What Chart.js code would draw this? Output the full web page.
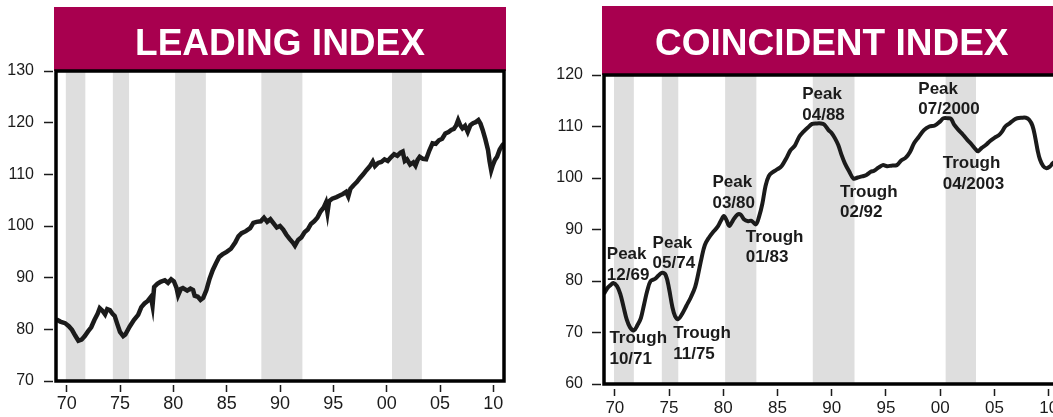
<!DOCTYPE html>
<html>
<head>
<meta charset="utf-8">
<script src="https://cdn.jsdelivr.net/npm/chart.js@4.4.1/dist/chart.umd.min.js"></script>
<style>
  html, body { margin: 0; padding: 0; background: #fff; overflow: hidden; width: 1053px; height: 417px; }
  canvas { position: absolute; top: 0; }
  #leading { left: 0; }
  #coincident { left: 530px; }
</style>
</head>
<body>
<canvas id="leading" width="525" height="417"></canvas>
<canvas id="coincident" width="560" height="417"></canvas>
<script>
const FONT = "'Liberation Sans', Arial, Helvetica, sans-serif";
const INK = '#1b1b1b';
const BANNER = '#a8004f';
const SHADE = '#dedede';

// shaded cycles, peak -> trough (decimal years)
const cycleStarts = [1969.92, 1974.33, 1980.17, 1988.25, 2000.5];
const cycleEnds   = [1971.75, 1975.85, 1983.05, 1992.1, 2003.3];

const xTickYears = [1970, 1975, 1980, 1985, 1990, 1995, 2000, 2005, 2010];
const leadTicks  = [70, 80, 90, 100, 110, 120, 130];
const coincTicks = [60, 70, 80, 90, 100, 110, 120];

// leading index
const leadYears = [
  1969.05, 1969.4, 1969.85, 1970.2, 1970.5, 1970.8, 1971.1, 1971.4, 1971.7, 1972.0,
  1972.3, 1972.6, 1972.9, 1973.1, 1973.35, 1973.6, 1973.8, 1974.05, 1974.3, 1974.5,
  1974.75, 1975.0, 1975.3, 1975.5, 1975.9, 1976.3, 1976.7, 1977.0, 1977.3, 1977.6,
  1977.9, 1978.05, 1978.2, 1978.5, 1978.8, 1979.2, 1979.5, 1979.8, 1980.05, 1980.3,
  1980.45, 1980.7, 1980.9, 1981.3, 1981.6, 1981.85, 1982.0, 1982.3, 1982.55, 1982.8,
  1983.1, 1983.4, 1983.7, 1984.0, 1984.3, 1984.6, 1985.0, 1985.4, 1985.8, 1986.1,
  1986.4, 1986.8, 1987.2, 1987.5, 1987.8, 1988.2, 1988.5, 1988.8, 1989.1, 1989.4,
  1989.7, 1990.0, 1990.3, 1990.6, 1990.9, 1991.2, 1991.4, 1991.7, 1992.0, 1992.3,
  1992.6, 1992.9, 1993.2, 1993.5, 1993.8, 1994.1, 1994.3, 1994.45, 1994.6, 1994.9,
  1995.3, 1995.6, 1995.9, 1996.2, 1996.4, 1996.6, 1996.9, 1997.2, 1997.5, 1997.8,
  1998.1, 1998.4, 1998.7, 1998.9, 1999.2, 1999.5, 1999.8, 2000.1, 2000.4, 2000.7,
  2001.0, 2001.3, 2001.5, 2001.7, 2001.9, 2002.2, 2002.5, 2002.7, 2002.9, 2003.1,
  2003.4, 2003.7, 2004.0, 2004.3, 2004.6, 2004.9, 2005.2, 2005.5, 2005.8, 2006.05,
  2006.3, 2006.5, 2006.7, 2006.9, 2007.1, 2007.35, 2007.6, 2007.85, 2008.1, 2008.35,
  2008.6, 2008.8, 2009.0, 2009.25, 2009.5, 2009.65, 2009.8, 2009.95, 2010.15, 2010.35,
  2010.6, 2010.85, 2011.0
];
const leadValues = [
  81.9, 81.5, 81.2, 80.6, 79.9, 78.8, 77.8, 78.0, 78.7, 79.6,
  80.4, 81.8, 83.0, 84.1, 83.6, 82.9, 83.9, 83.7, 83.0, 82.6,
  81.0, 79.5, 78.7, 79.0, 80.5, 81.8, 82.8, 84.3, 85.0, 85.5,
  86.3, 84.6, 88.2, 88.8, 89.2, 89.5, 89.0, 89.7, 89.3, 88.0,
  86.6, 87.8, 88.0, 87.5, 87.9, 87.6, 86.5, 86.3, 85.7, 86.1,
  87.6, 89.8, 91.5, 92.8, 94.0, 94.5, 95.0, 95.6, 96.8, 98.0,
  98.6, 99.0, 99.6, 100.6, 100.8, 100.9, 101.6, 100.8, 101.3, 100.5,
  99.7, 100.0, 99.3, 98.3, 97.5, 96.8, 96.2, 97.3, 97.8, 98.8,
  99.3, 100.4, 100.9, 101.6, 102.8, 103.6, 104.5, 102.6, 104.8, 105.3,
  105.6, 105.9, 106.2, 106.6, 105.7, 107.2, 107.9, 108.5, 109.3, 110.0,
  110.8, 111.5, 112.5, 111.6, 112.2, 112.4, 112.9, 112.6, 113.3, 113.9,
  113.6, 114.2, 114.4, 112.6, 112.9, 111.9, 112.3, 111.7, 112.8, 113.4,
  113.0, 112.9, 114.6, 116.0, 115.9, 116.6, 116.9, 117.9, 118.2, 118.6,
  118.8, 119.4, 120.5, 119.5, 118.9, 119.4, 118.2, 119.5, 119.9, 120.1,
  120.5, 119.8, 118.6, 116.8, 114.7, 112.5, 110.8, 111.8, 112.8, 113.4,
  114.8, 115.6, 116.0
];

// coincident index
const coincYears = [
  1969.0, 1969.3, 1969.6, 1969.85, 1970.2, 1970.5, 1970.8, 1971.1, 1971.4, 1971.75,
  1972.1, 1972.4, 1972.7, 1973.0, 1973.3, 1973.7, 1974.0, 1974.35, 1974.7, 1975.0,
  1975.3, 1975.55, 1975.85, 1976.2, 1976.6, 1977.0, 1977.4, 1977.7, 1978.0, 1978.3,
  1978.7, 1979.1, 1979.5, 1979.8, 1980.05, 1980.3, 1980.55, 1980.9, 1981.3, 1981.6,
  1981.9, 1982.3, 1982.6, 1983.0, 1983.3, 1983.6, 1983.9, 1984.2, 1984.6, 1985.0,
  1985.4, 1985.8, 1986.2, 1986.6, 1987.0, 1987.4, 1987.8, 1988.2, 1988.6, 1989.0,
  1989.3, 1989.7, 1990.0, 1990.3, 1990.6, 1990.9, 1991.2, 1991.6, 1992.0, 1992.4,
  1992.8, 1993.2, 1993.6, 1993.9, 1994.3, 1994.7, 1995.1, 1995.5, 1996.0, 1996.4,
  1996.8, 1997.2, 1997.6, 1998.0, 1998.5, 1999.0, 1999.5, 2000.0, 2000.3, 2000.7,
  2001.0, 2001.3, 2001.7, 2002.1, 2002.5, 2002.9, 2003.3, 2003.5, 2003.8, 2004.2,
  2004.6, 2005.0, 2005.4, 2005.7, 2006.0, 2006.4, 2006.8, 2007.1, 2007.5, 2007.9,
  2008.2, 2008.5, 2008.75, 2009.0, 2009.2, 2009.5, 2009.8, 2010.1, 2010.4, 2010.8
];
const coincValues = [
  77.5, 78.6, 79.2, 79.6, 79.0, 77.5, 75.0, 72.5, 71.0, 70.4,
  71.5, 72.8, 75.5, 78.2, 80.0, 80.4, 81.0, 81.6, 81.1, 78.5,
  75.0, 73.2, 72.6, 73.6, 75.2, 76.8, 78.8, 81.5, 84.5, 87.0,
  88.5, 89.6, 90.6, 91.8, 92.6, 91.8, 90.7, 91.8, 92.9, 92.9,
  92.0, 91.6, 91.7, 91.0, 92.5, 95.0, 98.5, 100.4, 101.2, 101.7,
  102.4, 103.8, 105.4, 106.3, 108.0, 109.0, 109.8, 110.5, 110.6, 110.6,
  110.4, 109.3, 108.7, 107.7, 106.4, 104.5, 102.9, 101.3, 99.9, 100.1,
  100.3, 100.6, 101.2, 101.4, 102.0, 102.5, 102.3, 102.4, 102.5, 103.4,
  103.9, 105.0, 106.8, 107.9, 109.3, 110.0, 110.2, 111.0, 111.6, 111.6,
  111.5, 110.3, 109.3, 108.4, 107.4, 106.5, 105.5, 105.2, 105.8, 106.4,
  107.2, 107.8, 108.3, 109.0, 110.0, 110.6, 111.3, 111.6, 111.7, 111.7,
  111.3, 110.2, 108.0, 105.2, 103.6, 102.3, 101.9, 102.2, 102.9, 103.4
];

// turning-point notes on the coincident chart, anchored at (year, index) of first baseline
const noteLabels = [
  ['Peak', '12/69'], ['Trough', '10/71'], ['Peak', '05/74'], ['Trough', '11/75'],
  ['Peak', '03/80'], ['Trough', '01/83'], ['Peak', '04/88'], ['Trough', '02/92'],
  ['Peak', '07/2000'], ['Trough', '04/2003']
];
const noteYears  = [1969.26, 1969.5, 1973.48, 1975.38, 1979.0, 1982.08, 1987.28, 1990.76, 1997.98, 2000.23];
const noteValues = [84.2, 67.9, 86.5, 68.9, 98.2, 87.6, 115.3, 96.4, 116.4, 101.9];

Chart.defaults.font.family = FONT;

const shadePlugin = {
  id: 'shade',
  beforeDatasetsDraw(chart) {
    const { ctx, chartArea: a, scales: { x } } = chart;
    ctx.save();
    ctx.fillStyle = SHADE;
    cycleStarts.forEach((s, i) => {
      const x0 = x.getPixelForValue(s);
      const x1 = x.getPixelForValue(cycleEnds[i]);
      ctx.fillRect(x0, a.top, x1 - x0, a.bottom - a.top);
    });
    ctx.restore();
  }
};

const framePlugin = {
  id: 'frame',
  beforeDraw(chart, args, opts) {
    const { ctx, chartArea: a } = chart;
    ctx.save();
    ctx.fillStyle = BANNER;
    ctx.fillRect(a.left - 2, opts.top, a.right - a.left + 4, a.top - opts.top);
    ctx.fillStyle = '#fff';
    ctx.font = 'bold 37px ' + FONT;
    ctx.textAlign = 'center';
    ctx.textBaseline = 'alphabetic';
    ctx.fillText(opts.text, (a.left + a.right) / 2, opts.baseline);
    ctx.restore();
  },
  afterDatasetsDraw(chart) {
    const { ctx, chartArea: a } = chart;
    ctx.save();
    ctx.strokeStyle = '#000';
    ctx.lineWidth = 3.5;
    ctx.strokeRect(a.left, a.top, a.right - a.left, a.bottom - a.top);
    ctx.restore();
  }
};

const notesPlugin = {
  id: 'notes',
  afterDatasetsDraw(chart) {
    const { ctx, scales: { x, y } } = chart;
    ctx.save();
    ctx.fillStyle = INK;
    ctx.font = 'bold 17px ' + FONT;
    ctx.textAlign = 'left';
    ctx.textBaseline = 'alphabetic';
    noteLabels.forEach((lines, i) => {
      const px = x.getPixelForValue(noteYears[i]);
      const py = y.getPixelForValue(noteValues[i]);
      lines.forEach((t, j) => ctx.fillText(t, px, py + j * 20.5));
    });
    ctx.restore();
  }
};

function makeChart(id, years, values, yTicks, cfg, extraPlugins) {
  const tickGrid = (dash) => ({
    drawOnChartArea: false,
    drawTicks: true,
    tickLength: 12,
    tickColor: INK,
    tickWidth: 1.5,
    tickBorderDash: dash
  });
  return new Chart(document.getElementById(id), {
    type: 'line',
    data: {
      datasets: [{
        data: years.map((yr, i) => ({ x: yr, y: values[i] })),
        borderColor: INK,
        borderWidth: cfg.lineWidth,
        pointRadius: 0,
        tension: cfg.tension,
        fill: false
      }]
    },
    options: {
      responsive: false,
      animation: false,
      devicePixelRatio: 1,
      layout: { padding: { top: cfg.top, left: 0, right: cfg.right, bottom: 0 } },
      plugins: {
        legend: { display: false },
        tooltip: { enabled: false },
        frame: { text: cfg.title, top: cfg.bannerTop, baseline: 55 }
      },
      scales: {
        x: {
          type: 'linear',
          min: 1969,
          max: 2011,
          afterBuildTicks: s => { s.ticks = xTickYears.map(v => ({ value: v })); },
          afterFit: s => { s.height = cfg.xHeight; },
          border: { display: false },
          grid: tickGrid(cfg.xDash),
          ticks: {
            color: INK,
            font: { size: cfg.xFont },
            padding: cfg.xPad,
            maxRotation: 0,
            autoSkip: false,
            callback: v => String(v % 100).padStart(2, '0')
          }
        },
        y: {
          min: yTicks[0],
          max: yTicks[yTicks.length - 1],
          afterBuildTicks: s => { s.ticks = yTicks.map(v => ({ value: v })); },
          afterFit: s => { s.width = cfg.yWidth; },
          border: { display: false },
          grid: tickGrid(cfg.yDash),
          ticks: { color: INK, font: { size: 16 }, padding: cfg.yPad }
        }
      }
    },
    plugins: [shadePlugin, framePlugin].concat(extraPlugins)
  });
}

makeChart('leading', leadYears, leadValues, leadTicks, {
  title: 'LEADING INDEX', bannerTop: 7, top: 71, right: 21,
  yWidth: 56, xHeight: 36, xDash: [0, 4, 7, 50], yDash: [9, 50],
  xFont: 18, xPad: 0, yPad: 10, lineWidth: 4.5, tension: 0
}, []);

makeChart('coincident', coincYears, coincValues, coincTicks, {
  title: 'COINCIDENT INDEX', bannerTop: 6, top: 75, right: 30.5,
  yWidth: 74, xHeight: 33, xDash: [0, 5, 7, 50], yDash: [9, 50],
  xFont: 17, xPad: 2, yPad: 9, lineWidth: 4, tension: 0.35
}, [notesPlugin]);
</script>
</body>
</html>
